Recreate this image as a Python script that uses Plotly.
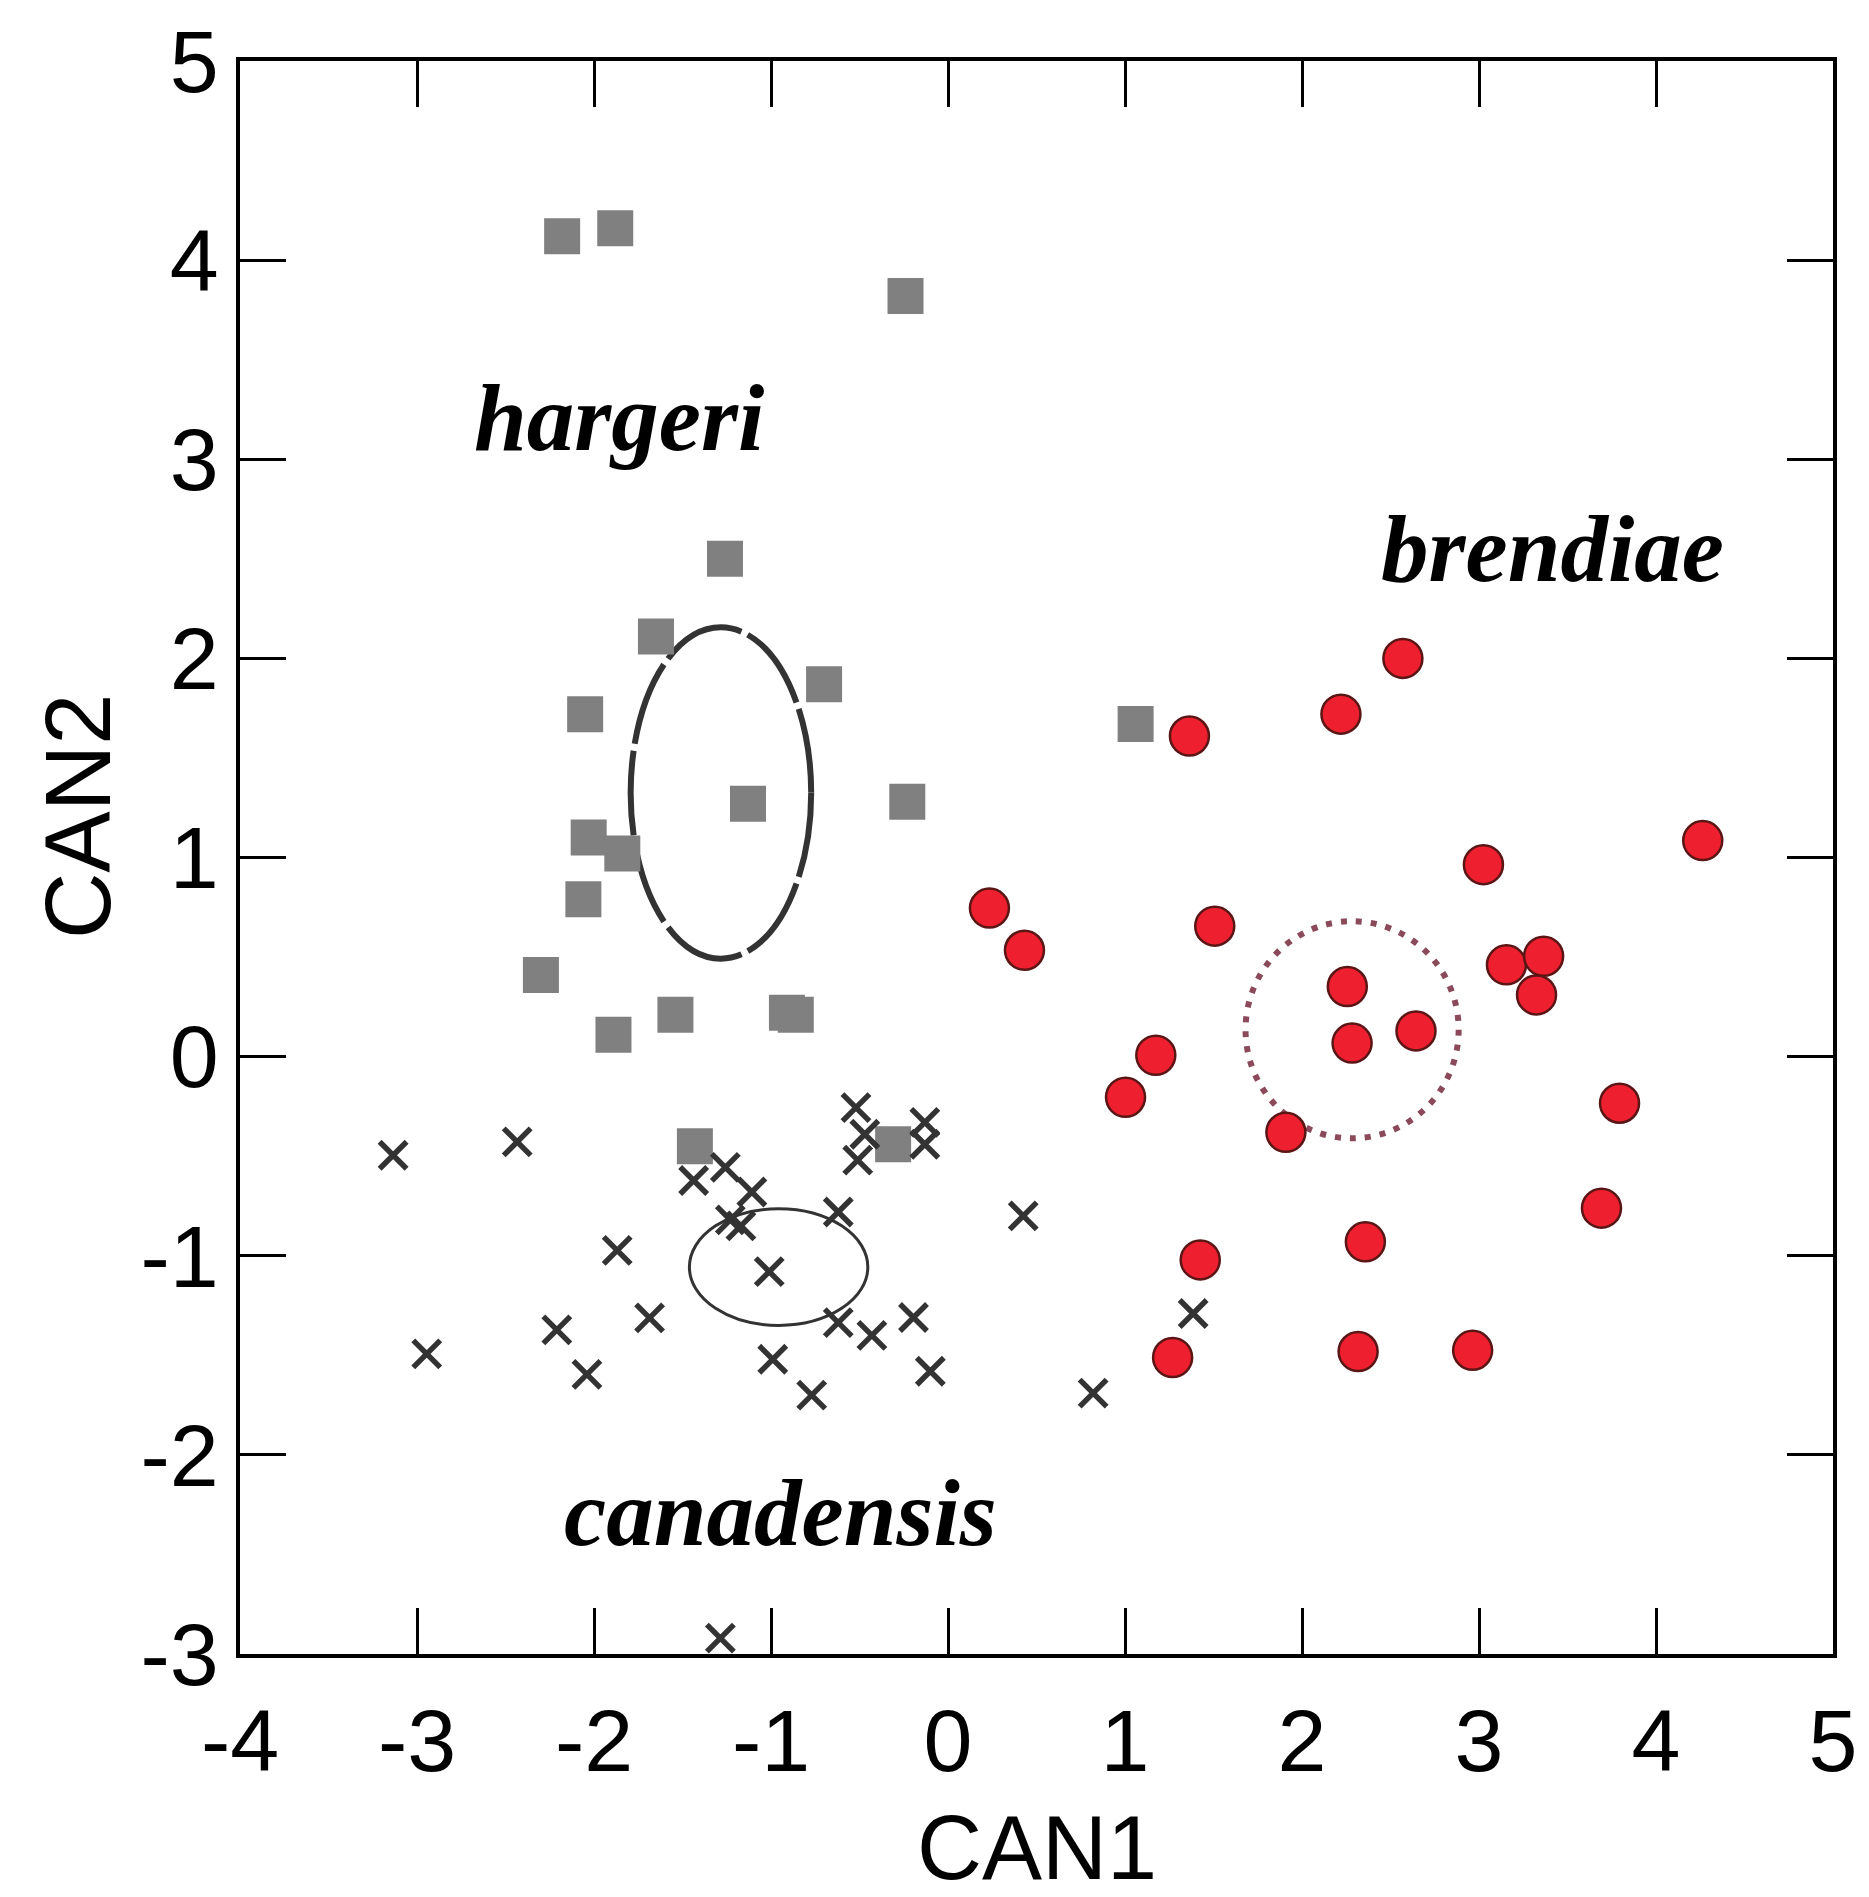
import plotly.graph_objects as go

# ---------------- data ----------------
hargeri_x = [-2.18, -1.88, -0.24, -1.26, -1.65, -0.70, -2.05, 1.06, -1.13, -0.23,
             -2.03, -1.84, -2.06, -2.30, -1.54, -0.91, -0.86, -1.89, -1.43, -0.31]
hargeri_y = [4.12, 4.16, 3.82, 2.50, 2.11, 1.87, 1.72, 1.67, 1.27, 1.28,
             1.10, 1.02, 0.79, 0.41, 0.21, 0.22, 0.21, 0.11, -0.45, -0.44]

canadensis_x = [-3.135, -2.434, -2.945, -1.869, -2.21, -2.04, -1.686, -1.437, -1.258, -1.108,
                -1.23, -1.17, -1.01, -0.99, -0.77, -0.62, -0.62, -0.43, -0.52, -0.47,
                -0.51, -0.131, -0.131, -0.195, -0.10, 0.425, 0.82, 1.385, -1.286]
canadensis_y = [-0.495, -0.428, -1.493, -0.973, -1.372, -1.596, -1.312, -0.622, -0.556, -0.68,
                -0.82, -0.85, -1.08, -1.52, -1.70, -0.78, -1.336, -1.40, -0.256, -0.39,
                -0.52, -0.33, -0.44, -1.31, -1.58, -0.80, -1.69, -1.29, -2.92]

brendiae_x = [2.57, 2.22, 1.364, 4.264, 3.025, 0.234, 0.432, 1.507, 3.155, 3.365,
              3.325, 2.256, 2.283, 2.644, 1.174, 1.003, 1.909, 3.794, 3.692, 2.358,
              1.425, 1.269, 2.317, 2.964]
brendiae_y = [2.00, 1.72, 1.61, 1.085, 0.964, 0.746, 0.534, 0.655, 0.461, 0.504,
              0.31, 0.352, 0.068, 0.129, 0.007, -0.204, -0.38, -0.234, -0.761, -0.93,
              -1.021, -1.511, -1.481, -1.475]

# group ellipses: centre x, centre y, half-width, half-height
ellipse_names = ["hargeri", "canadensis", "brendiae"]
ellipse_cx = [-1.283, -0.957, 2.283]
ellipse_cy = [1.324, -1.057, 0.135]
ellipse_rx = [0.51, 0.504, 0.602]
ellipse_ry = [0.832, 0.293, 0.545]

label_names = ["hargeri", "brendiae", "canadensis"]
label_x = [-1.859, 3.417, -0.947]
label_y = [3.205, 2.55, -2.29]

x_ticks = [-4, -3, -2, -1, 0, 1, 2, 3, 4, 5]
x_tick_text = ["-4", "-3", "-2", "-1", "0", "1", "2", "3", "4", "5"]
y_ticks = [-3, -2, -1, 0, 1, 2, 3, 4, 5]
y_tick_text = ["-3", "-2", "-1", "0", "1", "2", "3", "4", "5"]

# ---------------- figure ----------------
fig = go.Figure()

fig.add_trace(go.Scatter(
    x=hargeri_x, y=hargeri_y, mode="markers", name="hargeri",
    marker=dict(symbol="square", size=36, color="#808080", line=dict(width=0))))

fig.add_trace(go.Scatter(
    x=canadensis_x, y=canadensis_y, mode="markers", name="canadensis",
    marker=dict(symbol="x-thin", size=27, color="#333333",
                line=dict(width=5.5, color="#333333"))))

fig.add_trace(go.Scatter(
    x=brendiae_x, y=brendiae_y, mode="markers", name="brendiae",
    marker=dict(symbol="circle", size=39, color="#EE2030",
                line=dict(width=2.5, color="#5a1515"))))

ell_styles = {
    "hargeri": dict(color="#333333", width=6, dash="85px,7px"),
    "canadensis": dict(color="#333333", width=3, dash="solid"),
    "brendiae": dict(color="#8a4a5a", width=6, dash="6px,9px"),
}
for n, cx, cy, rx, ry in zip(ellipse_names, ellipse_cx, ellipse_cy, ellipse_rx, ellipse_ry):
    fig.add_shape(type="circle", xref="x", yref="y",
                  x0=cx - rx, x1=cx + rx, y0=cy - ry, y1=cy + ry,
                  line=ell_styles[n], layer="below")

for t, lx, ly in zip(label_names, label_x, label_y):
    fig.add_annotation(x=lx, y=ly, xref="x", yref="y", text="<b><i>%s</i></b>" % t,
                       showarrow=False, xanchor="center", yanchor="middle",
                       font=dict(family="Liberation Serif", size=95, color="black"))

fig.add_annotation(x=0.5, y=-0.122, xref="paper", yref="paper", text="CAN1",
                   showarrow=False, xanchor="center", yanchor="middle",
                   font=dict(family="Liberation Sans", size=90, color="black"))
fig.add_annotation(x=-0.102, y=0.5257, xref="paper", yref="paper", text="CAN2",
                   showarrow=False, xanchor="center", yanchor="middle", textangle=-90,
                   font=dict(family="Liberation Sans", size=92, color="black"))

axis_common = dict(showgrid=False, zeroline=False, showline=True, linewidth=3.5,
                   linecolor="black", mirror="ticks", ticks="inside", ticklen=46,
                   tickwidth=3, tickcolor="black",
                   tickfont=dict(family="Liberation Sans", size=88, color="black"))

fig.update_xaxes(range=[-4, 5], tickvals=x_ticks, ticktext=x_tick_text,
                 ticklabelstandoff=8, **axis_common)
fig.update_yaxes(range=[-3, 5], tickvals=y_ticks, ticktext=y_tick_text,
                 ticklabelstandoff=0, **axis_common)

fig.update_layout(width=1869, height=1897, showlegend=False,
                  margin=dict(l=240, r=26, t=54, b=243, pad=0),
                  plot_bgcolor="white", paper_bgcolor="white")

fig.write_html("out.html")
